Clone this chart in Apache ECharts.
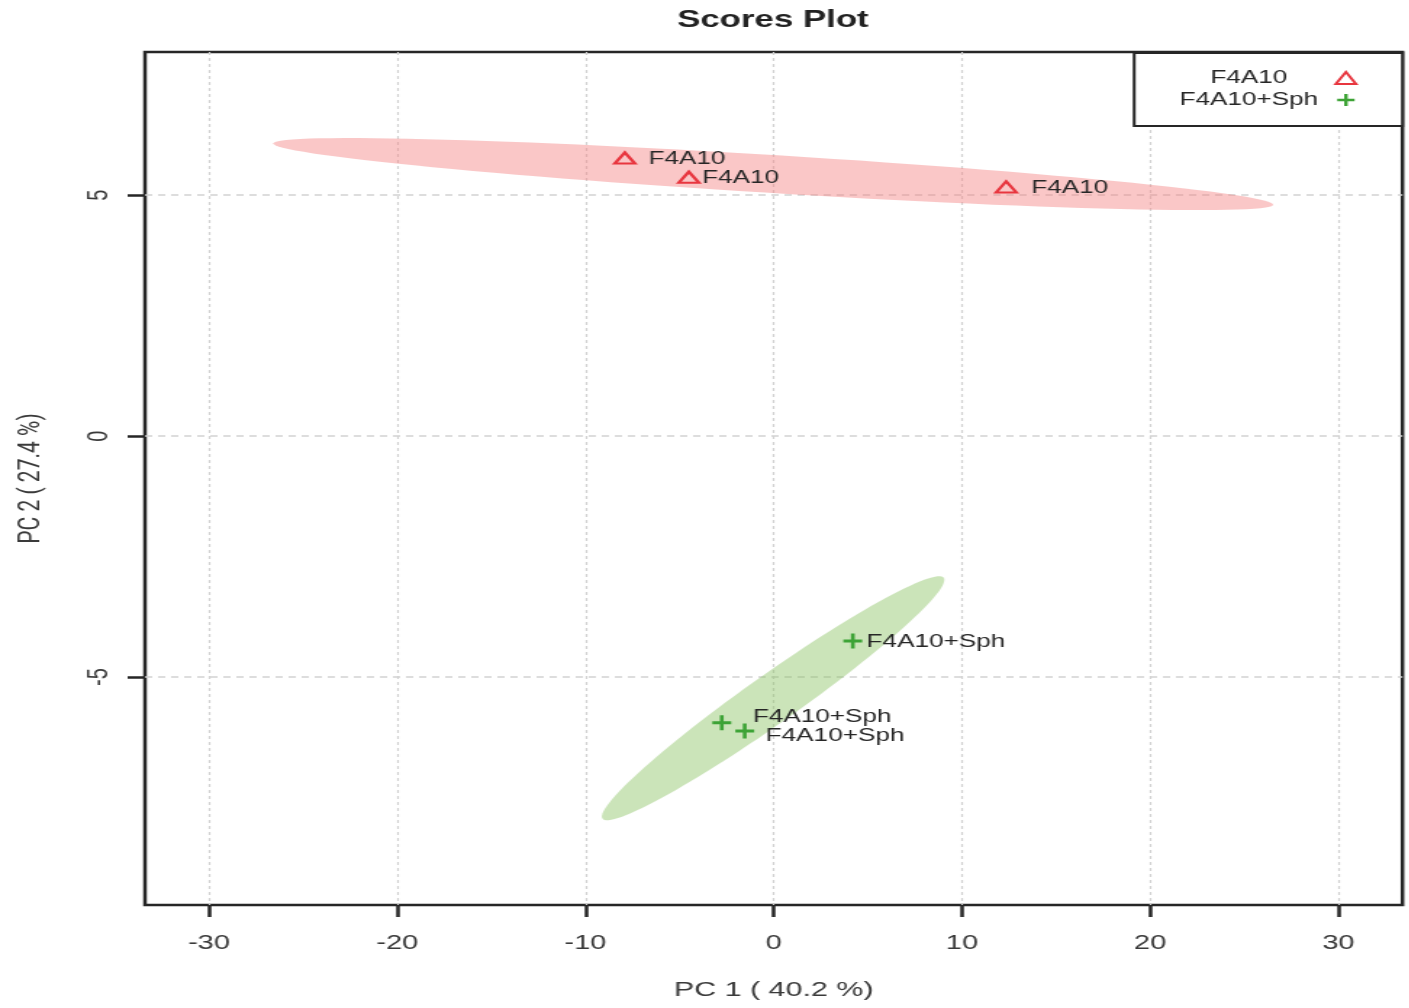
<!DOCTYPE html>
<html>
<head>
<meta charset="utf-8">
<title>Scores Plot</title>
<script src="https://cdn.jsdelivr.net/npm/echarts@6/dist/echarts.min.js"></script>
<style>
  html, body { margin: 0; padding: 0; background: #ffffff; overflow: hidden; }
  /* the plot is laid out narrow and widened horizontally, giving the wide lettering of the figure */
  #chart { width: 972px; height: 1008px; transform: scaleX(1.45); transform-origin: 0 0; }
</style>
</head>
<body>
<div id="chart"></div>
<script>
// ---- data -------------------------------------------------------------
const groups = ['F4A10', 'F4A10+Sph'];

const f4a10PC1 = [-7.91, -4.51, 12.35];
const f4a10PC2 = [5.77, 5.37, 5.17];

const sphPC1 = [4.20, -2.76, -1.54];
const sphPC2 = [-4.25, -5.95, -6.12];

const xTicks = [-30, -20, -10, 0, 10, 20, 30];
const yTicks = [-5, 0, 5];

const titleText = 'Scores Plot';
const xTitle = 'PC 1 ( 40.2 %)';
const yTitle = 'PC 2 ( 27.4 %)';

// ---- label nudges (px, right of the marker) ----------------------------
const f4a10Nudge = [[8, 1], [1, 1], [9, 1]];
const sphNudge = [[3, 1], [15, -6], [8, 5]];

// ---- styling ----------------------------------------------------------
const FONT = 'Liberation Sans';
const RED = '#E8363F';
const GREEN = '#3DA336';
const RED_FILL = 'rgba(245,130,130,0.45)';
const GREEN_FILL = 'rgba(140,195,100,0.45)';
const PLUS = 'path://M4,0h2v4h4v2h-4v4h-2v-4h-4v-2h4z';

// 95% confidence ellipse of a point cloud (same construction as R's ellipse())
function confidenceEllipse(xs, ys, steps) {
  const n = xs.length;
  const mx = xs.reduce((a, b) => a + b, 0) / n;
  const my = ys.reduce((a, b) => a + b, 0) / n;
  let sxx = 0, syy = 0, sxy = 0;
  for (let i = 0; i < n; i++) {
    const dx = xs[i] - mx, dy = ys[i] - my;
    sxx += dx * dx; syy += dy * dy; sxy += dx * dy;
  }
  const sx = Math.sqrt(sxx / (n - 1));
  const sy = Math.sqrt(syy / (n - 1));
  const r = (sxy / (n - 1)) / (sx * sy);
  const d = Math.acos(r);
  const t = Math.sqrt(5.991465); // sqrt of chi-square(0.95, 2 df)
  const pts = [];
  for (let i = 0; i < steps; i++) {
    const a = 2 * Math.PI * i / steps;
    pts.push([mx + t * sx * Math.cos(a + d / 2), my + t * sy * Math.cos(a - d / 2)]);
  }
  return pts;
}

function ellipseSeries(pts, fill) {
  return {
    type: 'custom',
    silent: true,
    z: 1,
    data: [0],
    renderItem: function (params, api) {
      return {
        type: 'polygon',
        shape: { points: pts.map(p => api.coord(p)) },
        style: { fill: fill, stroke: null }
      };
    }
  };
}

function pointData(xs, ys, nudges) {
  return xs.map((x, i) => ({
    value: [x, ys[i]],
    label: { offset: nudges[i] }
  }));
}

const labelStyle = {
  show: true,
  position: 'right',
  distance: 0,
  fontFamily: FONT,
  fontSize: 18,
  color: '#262626',
  formatter: p => p.seriesName
};

const chart = echarts.init(document.getElementById('chart'), null, { renderer: 'canvas' });

chart.setOption({
  animation: false,
  backgroundColor: '#ffffff',
  title: {
    text: titleText,
    left: 462,
    top: 3,
    textStyle: { fontFamily: FONT, fontSize: 24, fontWeight: 'bold', color: '#222' }
  },
  grid: {
    left: 100,
    right: 4.8,
    top: 52,
    bottom: 103,
    show: true,
    borderColor: '#262626',
    borderWidth: 2.5,
    backgroundColor: 'transparent'
  },
  legend: {
    data: groups,
    orient: 'vertical',
    align: 'right',
    right: 4.8,
    top: 53,
    padding: [16, 31, 17, 24],
    itemGap: 4,
    itemWidth: 14,
    itemHeight: 12,
    borderColor: '#262626',
    borderWidth: 2,
    backgroundColor: '#ffffff',
    formatter: name => '{c|' + name + '}',
    textStyle: {
      fontFamily: FONT,
      fontSize: 18,
      color: '#262626',
      rich: { c: { width: 110, align: 'center', lineHeight: 20, fontFamily: FONT, fontSize: 18, color: '#262626' } }
    }
  },
  xAxis: {
    type: 'value',
    min: -33.4,
    max: 33.4,
    name: xTitle,
    nameLocation: 'middle',
    nameGap: 75,
    nameTextStyle: { fontFamily: FONT, fontSize: 21, color: '#3a3a3a' },
    axisLine: { show: false, onZero: false },
    axisTick: { show: true, length: 12, customValues: xTicks, lineStyle: { color: '#262626', width: 2.5 } },
    axisLabel: { customValues: xTicks, margin: 28, fontFamily: FONT, fontSize: 20, color: '#3a3a3a' },
    splitLine: { show: true, lineStyle: { color: '#d2d2d2', width: 1.2, type: [3, 3] } }
  },
  yAxis: {
    type: 'value',
    min: -9.73,
    max: 7.97,
    name: yTitle,
    nameLocation: 'middle',
    nameGap: 68,
    nameRotate: 90,
    nameTextStyle: { fontFamily: 'Roboto', fontSize: 21, color: '#3a3a3a' },
    axisLine: { show: false, onZero: false },
    axisTick: { show: true, length: 12, customValues: yTicks, lineStyle: { color: '#262626', width: 2.5 } },
    axisLabel: { customValues: yTicks, rotate: 90, margin: 22, fontFamily: FONT, fontSize: 20, color: '#3a3a3a' },
    splitLine: { show: true, lineStyle: { color: '#d2d2d2', width: 1.5, type: [5, 4] } }
  },
  series: [
    ellipseSeries(confidenceEllipse(f4a10PC1, f4a10PC2, 120), RED_FILL),
    ellipseSeries(confidenceEllipse(sphPC1, sphPC2, 120), GREEN_FILL),
    {
      name: groups[0],
      type: 'scatter',
      z: 3,
      symbol: 'triangle',
      symbolSize: [14, 11],
      itemStyle: { color: 'rgba(0,0,0,0)', borderColor: RED, borderWidth: 2.2, opacity: 1 },
      label: labelStyle,
      data: pointData(f4a10PC1, f4a10PC2, f4a10Nudge)
    },
    {
      name: groups[1],
      type: 'scatter',
      z: 3,
      symbol: PLUS,
      symbolSize: [13, 15],
      itemStyle: { color: GREEN, opacity: 1 },
      label: labelStyle,
      data: pointData(sphPC1, sphPC2, sphNudge)
    }
  ]
});
</script>
</body>
</html>
